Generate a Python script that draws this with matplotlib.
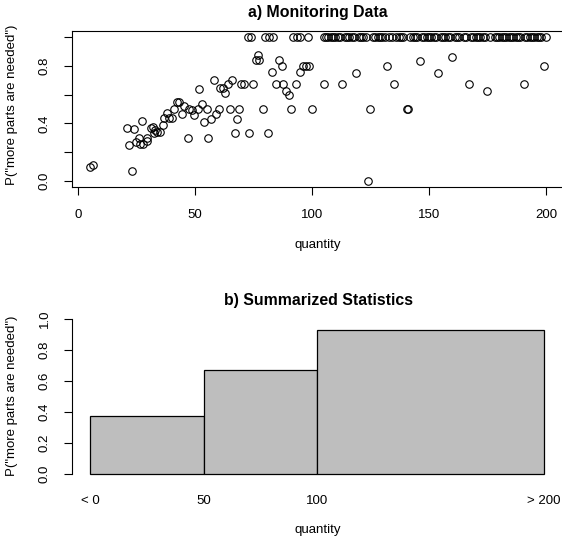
import matplotlib
matplotlib.use("Agg")
import matplotlib.pyplot as plt

plt.rcParams['font.family'] = ['Liberation Sans', 'DejaVu Sans']

# ------------ DATA ------------
# a) monitoring data: single observations below 1.0
qty = [5.3, 6.3, 23, 21, 24, 22, 25, 26, 26.6, 27.5, 27.6, 29.3, 29.6, 31, 32.2,
       32.9, 32.5, 33.9, 35, 36.2, 36.8, 37.9, 39, 40.3, 41.2, 42.4, 43.3, 44.3,
       45.3, 47.1, 47.4, 48.6, 49.7, 51.4, 51.8, 52.9, 54, 55, 55.7, 57, 58, 58.8,
       60.3, 60.8, 62, 63, 64, 64.8, 66, 67, 68, 68.8, 69.8, 71, 73, 74.8, 76.2,
       77, 77.2, 79, 81, 83, 84.6, 86, 87.2, 87.7, 88.9, 90, 91, 93, 95, 96, 97.4,
       98.8, 100, 105, 113, 119, 124, 125, 132, 135, 140.5, 141, 146, 154, 160,
       167, 175, 190.5, 199]
prob = [0.10, 0.11, 0.07, 0.37, 0.36, 0.25, 0.27, 0.30, 0.26, 0.42, 0.26, 0.28,
        0.30, 0.37, 0.375, 0.355, 0.333, 0.34, 0.34, 0.39, 0.44, 0.47, 0.44, 0.44,
        0.50, 0.55, 0.55, 0.465, 0.52, 0.30, 0.50, 0.49, 0.456, 0.50, 0.64, 0.535,
        0.41, 0.50, 0.30, 0.43, 0.70, 0.465, 0.50, 0.645, 0.645, 0.61, 0.67, 0.50,
        0.70, 0.333, 0.43, 0.50, 0.67, 0.67, 0.333, 0.67, 0.84, 0.877, 0.84, 0.50,
        0.333, 0.755, 0.67, 0.84, 0.80, 0.67, 0.627, 0.60, 0.50, 0.67, 0.755, 0.80,
        0.80, 0.80, 0.50, 0.67, 0.67, 0.75, 0.0, 0.50, 0.80, 0.67, 0.50, 0.50, 0.83,
        0.75, 0.86, 0.67, 0.625, 0.67, 0.80]

# quantities where more parts were always needed (P = 1.0)
qty_always = [72.5, 74, 80, 81.6, 83.3, 92, 93.6, 95, 98.2, 105, 106, 107, 108,
              109, 110, 111, 112, 114, 115, 116, 117, 118, 120, 121, 122, 123, 126,
              127, 128, 129, 130, 131, 133, 134, 136, 137, 138, 139, 142, 143, 144,
              145, 147, 148, 149, 150, 151, 152, 153, 155, 156, 157, 158, 159, 161,
              162, 163, 165, 166, 168, 169, 170, 171, 172, 173, 174, 176, 178, 179,
              180, 181, 182, 183, 184, 185, 186, 187, 188, 189, 191, 192, 193, 194,
              195, 196, 197, 198, 200]
prob_always = [1.0] * len(qty_always)

# b) summarized statistics
bin_edges = [0, 50, 100, 200]
bin_prob = [0.37, 0.67, 0.93]
bin_labels = ["< 0", "50", "100", "> 200"]

YLABEL = 'P("more parts are needed")'
FS = 9.5

# ------------ PLOT ------------
W, H = 562, 544
fig = plt.figure(figsize=(W / 100, H / 100), dpi=100)


def px_axes(left, top, right, bottom):
    return fig.add_axes([left / W, 1 - bottom / H, (right - left) / W, (bottom - top) / H])


def style_yaxis(ax, labels):
    ax.set_yticks([0, 0.2, 0.4, 0.6, 0.8, 1.0])
    ax.set_yticklabels(labels, rotation=90, va="center", fontsize=FS)
    ax.tick_params(axis="y", direction="out", length=5.8, width=0.8, pad=9.5)


# a) monitoring data (box runs past the right edge, as in the original crop)
ax1 = px_axes(72, 31, 620, 187)
ax1.plot(qty, prob, linestyle="none", marker="o", ms=5.4, mfc="none", mec="black", mew=0.8)
ax1.plot(qty_always, prob_always, linestyle="none", marker="o", ms=5.4, mfc="none",
         mec="black", mew=0.8)
ax1.set_xlim(-2.56, (620 - 78) / 2.34)
ax1.set_ylim(-0.04, 1.04)
ax1.set_xticks([0, 50, 100, 150, 200])
ax1.tick_params(axis="x", direction="out", length=5.8, width=0.8, labelsize=FS, pad=10)
style_yaxis(ax1, ["0.0", "", "0.4", "", "0.8", ""])
for s in ax1.spines.values():
    s.set_linewidth(0.8)
fig.text(318 / W, 1 - 13 / H, "a) Monitoring Data", ha="center", va="center",
         fontsize=11.4, fontweight="bold")
fig.text(318 / W, 1 - 245 / H, "quantity", ha="center", va="center", fontsize=FS)
fig.text(12 / W, 1 - 105 / H, YLABEL, ha="center", va="center", rotation=90, fontsize=FS)

# b) summarized statistics
ax2 = px_axes(72, 312.5, 562, 480)
widths = [bin_edges[i + 1] - bin_edges[i] for i in range(len(bin_prob))]
ax2.bar(bin_edges[:-1], bin_prob, width=widths, align="edge", color="#BEBEBE",
        edgecolor="black", linewidth=0.9)
ax2.set_xlim(-8, 208)
ax2.set_ylim(-0.04, 1.04)
ax2.set_xticks(bin_edges)
ax2.set_xticklabels(bin_labels)
ax2.tick_params(axis="x", length=0, labelsize=FS, pad=11)
style_yaxis(ax2, ["0.0", "0.2", "0.4", "0.6", "0.8", "1.0"])
for k in ["top", "right", "bottom"]:
    ax2.spines[k].set_visible(False)
ax2.spines["left"].set_bounds(0, 1)
ax2.spines["left"].set_linewidth(0.8)
fig.text(318 / W, 1 - 300 / H, "b) Summarized Statistics", ha="center", va="center",
         fontsize=11.4, fontweight="bold")
fig.text(318 / W, 1 - 530 / H, "quantity", ha="center", va="center", fontsize=FS)
fig.text(12 / W, 1 - 396 / H, YLABEL, ha="center", va="center", rotation=90, fontsize=FS)

fig.savefig("out.png", dpi=100)
